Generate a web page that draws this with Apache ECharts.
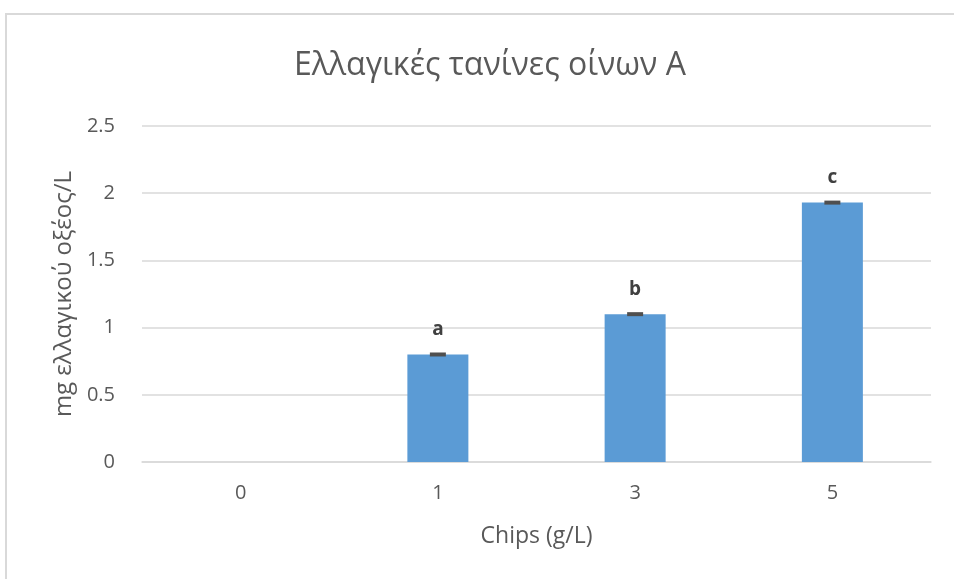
<!DOCTYPE html>
<html>
<head>
<meta charset="utf-8">
<script src="https://cdn.jsdelivr.net/npm/echarts@6/dist/echarts.min.js"></script>
<style>
  html, body { margin: 0; padding: 0; background: #fff; }
  #chart { width: 954px; height: 579px; }
</style>
</head>
<body>
<div id="chart"></div>
<script>
// Ellagitannin content of wine A by oak chip dose
const categories = ['0', '1', '3', '5'];
const values = [0, 0.80, 1.10, 1.93];
const errors = [0, 0.01, 0.01, 0.01];
const groupLetters = ['', 'a', 'b', 'c'];
const yTicks = [0, 0.5, 1, 1.5, 2, 2.5];

const FONT = 'Open Sans';
const TEXT = '#595959';

const chart = echarts.init(document.getElementById('chart'), null, { renderer: 'canvas' });

chart.setOption({
  animation: false,
  backgroundColor: '#fff',
  textStyle: { fontFamily: FONT },
  graphic: [{
    type: 'rect',
    shape: { x: 6, y: 14, width: 1000, height: 700 },
    style: { fill: 'none', stroke: '#d9d9d9', lineWidth: 2 },
    silent: true, z: -1
  }],
  title: {
    text: 'Ελλαγικές τανίνες οίνων Α',
    left: 485, top: 45, textAlign: 'center',
    textStyle: { fontFamily: FONT, fontSize: 32, fontWeight: 'normal', color: TEXT }
  },
  grid: { left: 142, right: 23, top: 126, bottom: 117, containLabel: false },
  xAxis: {
    type: 'category',
    data: categories,
    name: 'Chips (g/L)',
    nameLocation: 'middle',
    nameGap: 63,
    nameTextStyle: { fontFamily: FONT, fontSize: 23, color: TEXT },
    axisLine: { show: true, lineStyle: { color: '#d9d9d9', width: 1.5 } },
    axisTick: { show: false },
    axisLabel: { fontFamily: FONT, fontSize: 20, color: TEXT, margin: 21 }
  },
  yAxis: {
    type: 'value',
    min: 0, max: yTicks[yTicks.length - 1], interval: 0.5,
    name: 'mg ελλαγικού οξέος/L',
    nameLocation: 'middle',
    nameGap: 63,
    nameTextStyle: { fontFamily: FONT, fontSize: 24, color: TEXT },
    axisLine: { show: false },
    axisTick: { show: false },
    splitLine: { lineStyle: { color: '#d9d9d9', width: 1.5 } },
    axisLabel: { fontFamily: FONT, fontSize: 20, color: TEXT, margin: 27 }
  },
  series: [
    {
      type: 'bar',
      data: values,
      barWidth: 61,
      itemStyle: { color: '#5b9bd5' },
      z: 2
    },
    {
      type: 'custom',
      z: 3,
      data: values.map((v, i) => [i, v, errors[i]]),
      renderItem: function (params, api) {
        const i = api.value(0);
        if (!errors[i] && !values[i]) return null;
        const v = api.value(1);
        const e = api.value(2);
        const hi = api.coord([i, v + e]);
        const lo = api.coord([i, v - e]);
        const h = Math.max(lo[1] - hi[1], 4);
        const cy = (hi[1] + lo[1]) / 2;
        return {
          type: 'group',
          children: [
            {
              type: 'rect',
              shape: { x: hi[0] - 8, y: cy - h / 2, width: 16, height: h },
              style: { fill: '#4f4f4f' }
            },
            {
              type: 'text',
              style: {
                text: groupLetters[i],
                x: hi[0], y: cy - 25,
                align: 'center', verticalAlign: 'middle',
                font: 'bold 19px "' + FONT + '"',
                fill: '#404040'
              }
            }
          ]
        };
      }
    }
  ]
});
</script>
</body>
</html>
